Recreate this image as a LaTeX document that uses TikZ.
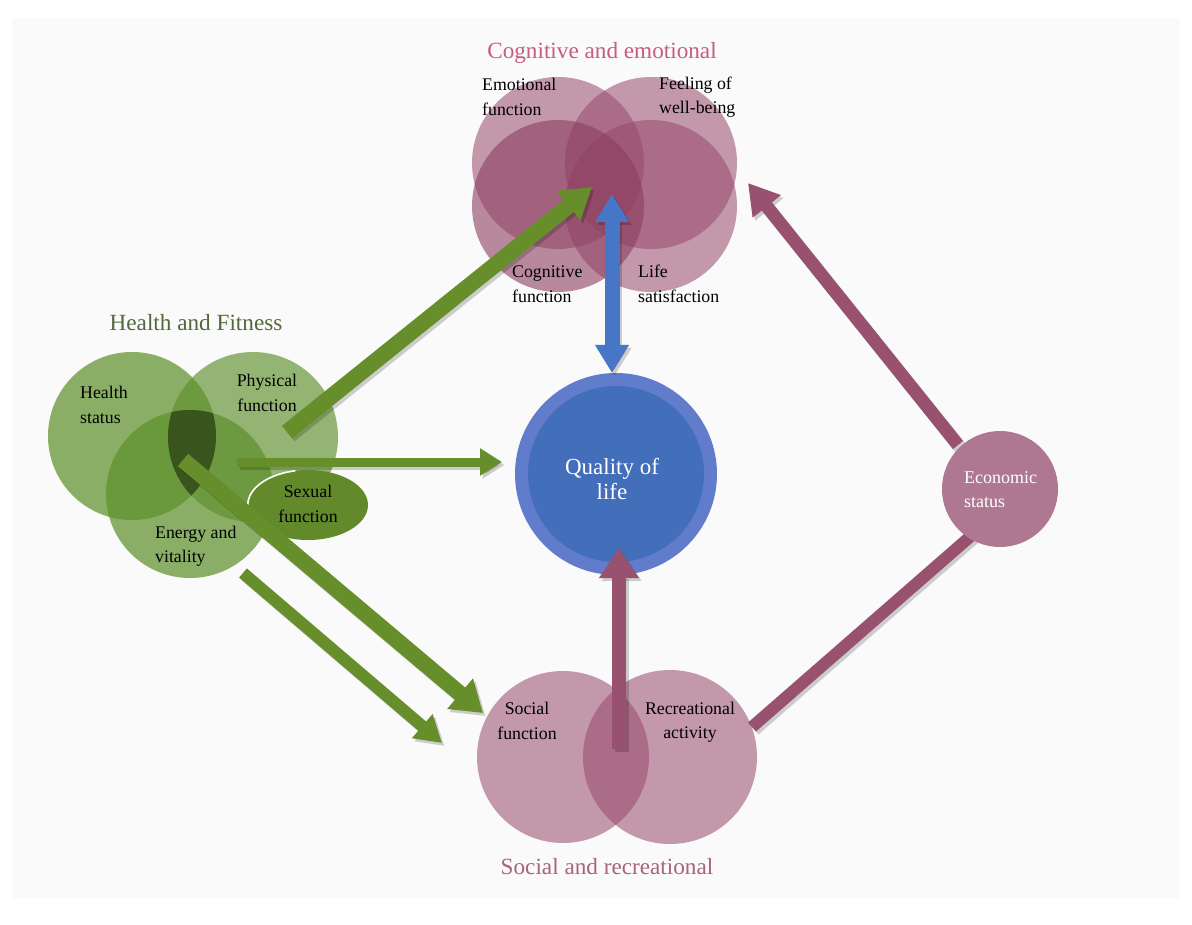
\documentclass[tikz,border=0pt]{standalone}
\usepackage{fontspec}
\setmainfont{Liberation Serif}
\usetikzlibrary{arrows.meta,shapes.geometric}
\definecolor{panel}{RGB}{250,250,250}
\definecolor{gbase}{RGB}{95,145,45}
\definecolor{gdark}{RGB}{58,84,30}
\definecolor{gsex}{RGB}{98,138,42}
\definecolor{garrow}{RGB}{102,142,42}
\definecolor{mbase}{RGB}{150,72,106}
\definecolor{mdark}{RGB}{140,62,96}
\definecolor{marrow}{RGB}{152,82,112}
\definecolor{ecocol}{RGB}{174,120,145}
\definecolor{qolout}{RGB}{98,124,204}
\definecolor{qolin}{RGB}{66,110,186}
\definecolor{barrow}{RGB}{72,118,198}
\definecolor{hftitle}{RGB}{84,104,62}
\definecolor{cetitle}{RGB}{196,92,132}
\definecolor{srtitle}{RGB}{166,100,126}
\tikzset{
  lbl/.style={font=\fontsize{17.8}{24.5}\selectfont, align=left, inner sep=0pt, text=black},
  lblc/.style={font=\fontsize{17.8}{24.5}\selectfont, align=center, inner sep=0pt, text=black},
  ttl/.style={font=\fontsize{23.2}{26}\selectfont, inner sep=0pt},
  gcirc/.style={circle, inner sep=0pt, minimum size=#1, fill=gbase, fill opacity=0.72},
  mcirc/.style={circle, inner sep=0pt, minimum size=#1, fill=mbase, fill opacity=0.55},
  shd/.style={draw=black, opacity=0.18, transform canvas={shift={(2.5pt,-3pt)}}},
}
\begin{document}
\begin{tikzpicture}[x=1pt,y=-1pt]
\useasboundingbox (0,0) rectangle (1192,925);
\fill[panel] (12,18) rectangle (1180,898);

% ---------------- coordinates for connectors
\coordinate (a1s) at (287,432); \coordinate (a1e) at (592,187);
\coordinate (a2s) at (237,462); \coordinate (a2e) at (502,462);
\coordinate (a3s) at (183,460); \coordinate (a3e) at (483,713);
\coordinate (a4s) at (243,573); \coordinate (a4e) at (442,743);
\coordinate (b1) at (612,194);  \coordinate (b2) at (612,373);
\coordinate (m1s) at (619,749); \coordinate (m1e) at (619,548);
\coordinate (m2s) at (958,445); \coordinate (m2e) at (748,183);
\coordinate (m3s) at (752,727); \coordinate (m3e) at (972,535);

% ---------------- Cognitive and emotional
\node[mcirc=172pt] (ef) at (558,163) {};
\node[mcirc=172pt] (fw) at (651,163) {};
\node[mcirc=172pt] (lsat) at (651,206) {};
\node[mcirc=172pt, fill=mdark, fill opacity=0.6] (cf) at (558,206) {};
\node[ttl, text=cetitle] (cetitle) at (602,53) {Cognitive and emotional};
\node[lbl, anchor=west] (efl) at (482,97) {Emotional\\function};
\node[lbl, anchor=west] (fwl) at (659,97) {Feeling of\\well-being};
\node[lbl, anchor=west] (cfl) at (512,284) {Cognitive\\function};
\node[lbl, anchor=west] (lsl) at (638,284) {Life\\satisfaction};

% ---------------- Social and recreational
\draw[shd, line width=12pt] (m3s) -- (m3e);
\draw[marrow, line width=12pt] (m3s) -- (m3e);
\node[mcirc=172pt] (sf) at (563,757) {};
\node[mcirc=174pt] (ra) at (670,757) {};
\node[lblc] (sfl) at (527,721) {Social\\function};
\node[lblc] (ral) at (690,722) {Recreational\\activity};
\node[ttl, text=srtitle] (srtitle) at (607,867) {Social and recreational};

% ---------------- Economic status
\draw[shd, line width=13pt, -{Triangle[width=34pt,length=30pt]}] (m2s) -- (m2e);
\draw[marrow, line width=13pt, -{Triangle[width=34pt,length=30pt]}] (m2s) -- (m2e);
\node[circle, inner sep=0pt, minimum size=116pt, fill=ecocol] (eco) at (1000,489) {};
\node[lbl, anchor=west, text=white, font=\fontsize{18}{24}\selectfont] (ecol) at (964,490) {Economic\\status};

% ---------------- Quality of life
\node[circle, inner sep=0pt, minimum size=202pt, fill=qolout] (qol) at (616,474) {};
\node[circle, inner sep=0pt, minimum size=176pt, fill=qolin] (qolc) at (616,474) {};
\node[lblc, text=white, font=\fontsize{23}{24.5}\selectfont] (qoll) at (612,479) {Quality of\\life};

% ---------------- Health and Fitness
\node[gcirc=168pt] (hs) at (132,436) {};
\node[gcirc=170pt, fill opacity=0.66] (pf) at (253,437) {};
\node[gcirc=168pt] (ev) at (190,494) {};
\begin{scope}
  \clip (hs.center) circle[radius=84pt];
  \clip (pf.center) circle[radius=85pt];
  \fill[gdark] (ev.center) circle[radius=84pt];
\end{scope}
\node[ellipse, inner sep=0pt, minimum width=120pt, minimum height=70pt, fill=gsex] (sx) at (308,505) {};
\draw[white, line width=1.6pt] (sx.west) arc[start angle=180, end angle=258, x radius=60, y radius=35];
\node[ttl, text=hftitle] (hftitle) at (196,323) {Health and Fitness};
\node[lbl, anchor=west] (hsl) at (80,405) {Health\\status};
\node[lblc] (pfl) at (267,393) {Physical\\function};
\node[lbl, anchor=west] (evl) at (155,546) {Energy and\\vitality};
\node[lblc] (sxl) at (308,504) {Sexual\\function};

% ---------------- green arrows
\draw[shd, line width=16pt, -{Triangle[width=36pt,length=30pt]}] (a1s) -- (a1e);
\draw[garrow, line width=16pt, -{Triangle[width=36pt,length=30pt]}] (a1s) -- (a1e);
\draw[shd, line width=9pt, -{Triangle[width=26pt,length=22pt]}] (a2s) -- (a2e);
\draw[garrow, line width=9pt, -{Triangle[width=26pt,length=22pt]}] (a2s) -- (a2e);
\draw[shd, line width=16pt, -{Triangle[width=38pt,length=30pt]}] (a3s) -- (a3e);
\draw[garrow, line width=16pt, -{Triangle[width=38pt,length=30pt]}] (a3s) -- (a3e);
\draw[shd, line width=12pt, -{Triangle[width=30pt,length=26pt]}] (a4s) -- (a4e);
\draw[garrow, line width=12pt, -{Triangle[width=30pt,length=26pt]}] (a4s) -- (a4e);

% ---------------- blue double arrow
\draw[shd, line width=15pt, {Triangle[width=32pt,length=28pt]}-{Triangle[width=32pt,length=28pt]}] (b1) -- (b2);
\draw[barrow, line width=15pt, {Triangle[width=32pt,length=28pt]}-{Triangle[width=32pt,length=28pt]}] (b1) -- (b2);

% ---------------- mauve up arrow
\draw[shd, line width=14pt, -{Triangle[width=38pt,length=30pt]}] (m1s) -- (m1e);
\draw[marrow, line width=14pt, -{Triangle[width=38pt,length=30pt]}] (m1s) -- (m1e);
\end{tikzpicture}
\end{document}
